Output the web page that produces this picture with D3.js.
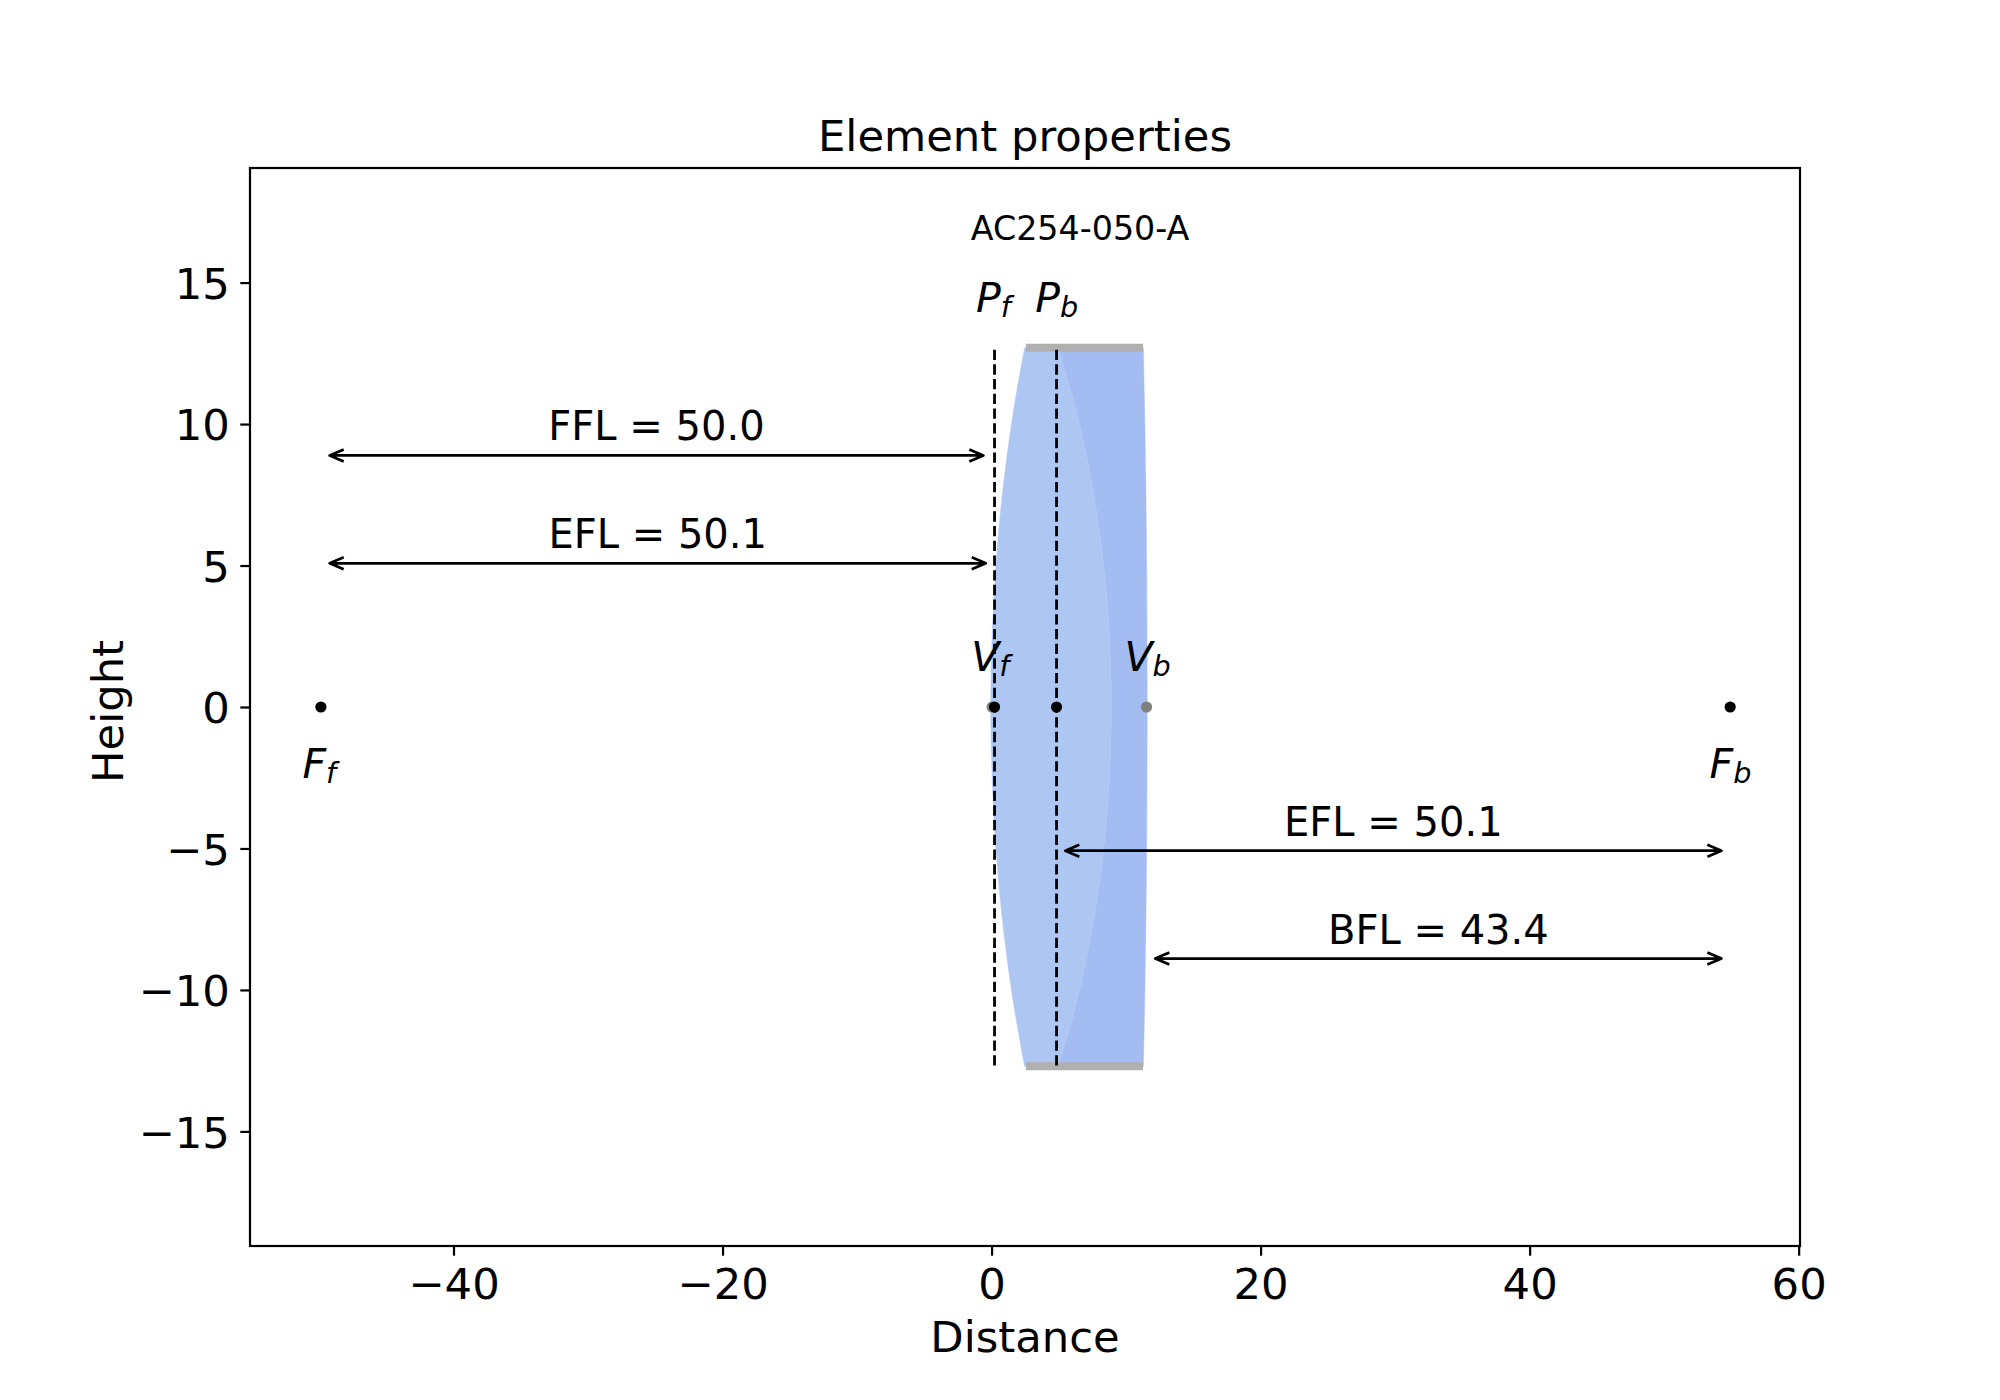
<!DOCTYPE html>
<html>
<head>
<meta charset="utf-8">
<script src="https://cdnjs.cloudflare.com/ajax/libs/d3/7.8.5/d3.min.js"></script>
<style>
body { margin: 0; background: #fff; }
text { font-family: "DejaVu Sans"; fill: #000; }
</style>
</head>
<body>
<svg id="chart"></svg>
<script>
var w = 2000;
var h = 1400;

var xTicks = [-40, -20, 0, 20, 40, 60];
var yTicks = [-15, -10, -5, 0, 5, 10, 15];
var xLimits = [-55.13, 60.1];
var yLimits = [-19.05, 19.05];

// lens surfaces: height and distance along the axis
var heights = [12.7, 11, 9, 7, 5, 3, 1, 0, -1, -3, -5, -7, -9, -11, -12.7];
var frontSurface = [2.46, 1.81, 1.18, 0.68, 0.32, 0.08, -0.04, -0.06, -0.04, 0.08, 0.32, 0.68, 1.18, 1.81, 2.46];
var middleSurface = [4.93, 6.00, 7.00, 7.77, 8.33, 8.70, 8.88, 8.90, 8.88, 8.70, 8.33, 7.77, 7.00, 6.00, 4.93];
var backSurface = [11.29, 11.36, 11.43, 11.49, 11.53, 11.55, 11.57, 11.57, 11.57, 11.55, 11.53, 11.49, 11.43, 11.36, 11.29];

var edgeStart = 2.55;
var edgeEnd = 11.26;
var edgeHeights = [12.7, -12.7];

var principalPlanes = [0.22, 4.83];
var planeEnds = [12.63, -12.68];

var grayPoints = [0.04, 11.52];
var blackPoints = [-49.86, 0.22, 4.83, 54.91];

// arrows
var arrowLabels = ["FFL = 50.0", "EFL = 50.1", "EFL = 50.1", "BFL = 43.4"];
var arrowFrom = [-49.86, -49.86, 4.83, 11.52];
var arrowTo = [0.04, 0.22, 54.91, 54.91];
var arrowHeights = [8.89, 5.08, -5.08, -8.89];

// point labels: letter, subscript, centre, baseline
var markLetters = ["P", "P", "V", "V", "F", "F"];
var markSubs = ["f", "b", "f", "b", "f", "b"];
var markX = [0.13, 4.85, -0.1, 11.6, -49.98, 54.93];
var markY = [13.97, 13.97, 1.28, 1.28, -2.52, -2.52];

var svg = d3.select("#chart").attr("width", w).attr("height", h);

var x = d3.scaleLinear().domain(xLimits).range([250, 1800]);
var y = d3.scaleLinear().domain(yLimits).range([1246, 168]);

var line = d3.line()
    .x(function(d) { return x(d[0]); })
    .y(function(d) { return y(d[1]); })
    .curve(d3.curveCatmullRom);

function surface(values) {
    return values.map(function(d, i) { return [d, heights[i]]; });
}

// closed outline between two surfaces
function element(a, b) {
    var back = line(surface(b).reverse());
    return line(surface(a)) + "L" + back.slice(1) + "Z";
}

var lens = svg.append("g");
lens.append("path")
    .attr("d", element(middleSurface, backSurface))
    .attr("fill", "#a3bcf2")
    .attr("stroke", "#a3bcf2")
    .attr("stroke-opacity", 0.4);
lens.append("path")
    .attr("d", element(frontSurface, middleSurface))
    .attr("fill", "#adc7f2")
    .attr("stroke", "#adc7f2")
    .attr("stroke-opacity", 0.4);

svg.selectAll(".edge")
    .data(edgeHeights)
    .enter()
    .append("line")
    .attr("class", "edge")
    .attr("x1", x(edgeStart))
    .attr("x2", x(edgeEnd))
    .attr("y1", function(d) { return y(d); })
    .attr("y2", function(d) { return y(d); })
    .attr("stroke", "#b0b0b0")
    .attr("stroke-width", 8);

svg.selectAll(".plane")
    .data(principalPlanes)
    .enter()
    .append("line")
    .attr("class", "plane")
    .attr("x1", function(d) { return x(d); })
    .attr("x2", function(d) { return x(d); })
    .attr("y1", y(planeEnds[0]))
    .attr("y2", y(planeEnds[1]))
    .attr("stroke", "#000")
    .attr("stroke-width", 2.78)
    .attr("stroke-dasharray", "10.3 4.4");

svg.selectAll(".gray")
    .data(grayPoints)
    .enter()
    .append("circle")
    .attr("class", "gray")
    .attr("cx", function(d) { return x(d); })
    .attr("cy", y(0))
    .attr("r", 5.6)
    .attr("fill", "#808080");

svg.selectAll(".black")
    .data(blackPoints)
    .enter()
    .append("circle")
    .attr("class", "black")
    .attr("cx", function(d) { return x(d); })
    .attr("cy", y(0))
    .attr("r", 5.6)
    .attr("fill", "#000");

// arrows are shrunk a little at each end, like matplotlib annotate
var shrink = 8.8;
var headLen = 14;
var headHalf = 6;

arrowLabels.forEach(function(label, i) {
    var x1 = x(arrowFrom[i]) + shrink;
    var x2 = x(arrowTo[i]) - shrink;
    var yy = y(arrowHeights[i]);
    var path = d3.path();
    path.moveTo(x1, yy);
    path.lineTo(x2, yy);
    path.moveTo(x1 + headLen, yy - headHalf);
    path.lineTo(x1, yy);
    path.lineTo(x1 + headLen, yy + headHalf);
    path.moveTo(x2 - headLen, yy - headHalf);
    path.lineTo(x2, yy);
    path.lineTo(x2 - headLen, yy + headHalf);
    svg.append("path")
        .attr("d", path.toString())
        .attr("fill", "none")
        .attr("stroke", "#000")
        .attr("stroke-width", 2.78)
        .attr("stroke-linejoin", "round");
    svg.append("text")
        .attr("x", (x(arrowFrom[i]) + x(arrowTo[i])) / 2)
        .attr("y", yy - 15)
        .attr("text-anchor", "middle")
        .style("font-size", "40px")
        .text(label);
});

markLetters.forEach(function(letter, i) {
    var t = svg.append("text")
        .attr("x", x(markX[i]))
        .attr("y", y(markY[i]))
        .attr("text-anchor", "middle")
        .style("font-size", "41px")
        .style("font-style", "italic");
    t.append("tspan").text(letter);
    t.append("tspan")
        .attr("dy", 5)
        .style("font-size", "28.7px")
        .text(markSubs[i]);
});

svg.append("text")
    .attr("x", 1080)
    .attr("y", 240)
    .attr("text-anchor", "middle")
    .style("font-size", "33.3px")
    .text("AC254-050-A");

// axes
var xAxis = svg.append("g")
    .attr("transform", "translate(0,1246)")
    .call(d3.axisBottom(x).tickValues(xTicks).tickSize(9.7).tickPadding(12.3));
var yAxis = svg.append("g")
    .attr("transform", "translate(250,0)")
    .call(d3.axisLeft(y).tickValues(yTicks).tickSize(9.7).tickPadding(10.5));

[xAxis, yAxis].forEach(function(a) {
    a.select(".domain").remove();
    a.selectAll("line").attr("stroke", "#000").attr("stroke-width", 2.2);
    a.selectAll("text").style("font-size", "43.3px").attr("fill", "#000");
});
yAxis.selectAll("text").attr("dy", "0.365em");

svg.append("rect")
    .attr("x", 250)
    .attr("y", 168)
    .attr("width", 1550)
    .attr("height", 1078)
    .attr("fill", "none")
    .attr("stroke", "#000")
    .attr("stroke-width", 2.2);

svg.append("text")
    .attr("x", 1025)
    .attr("y", 150.7)
    .attr("text-anchor", "middle")
    .style("font-size", "43.3px")
    .text("Element properties");

svg.append("text")
    .attr("x", 1025)
    .attr("y", 1352.3)
    .attr("text-anchor", "middle")
    .style("font-size", "43.3px")
    .text("Distance");

svg.append("text")
    .attr("transform", "translate(122.7,711.5) rotate(-90)")
    .attr("text-anchor", "middle")
    .style("font-size", "43.3px")
    .text("Height");
</script>
</body>
</html>
